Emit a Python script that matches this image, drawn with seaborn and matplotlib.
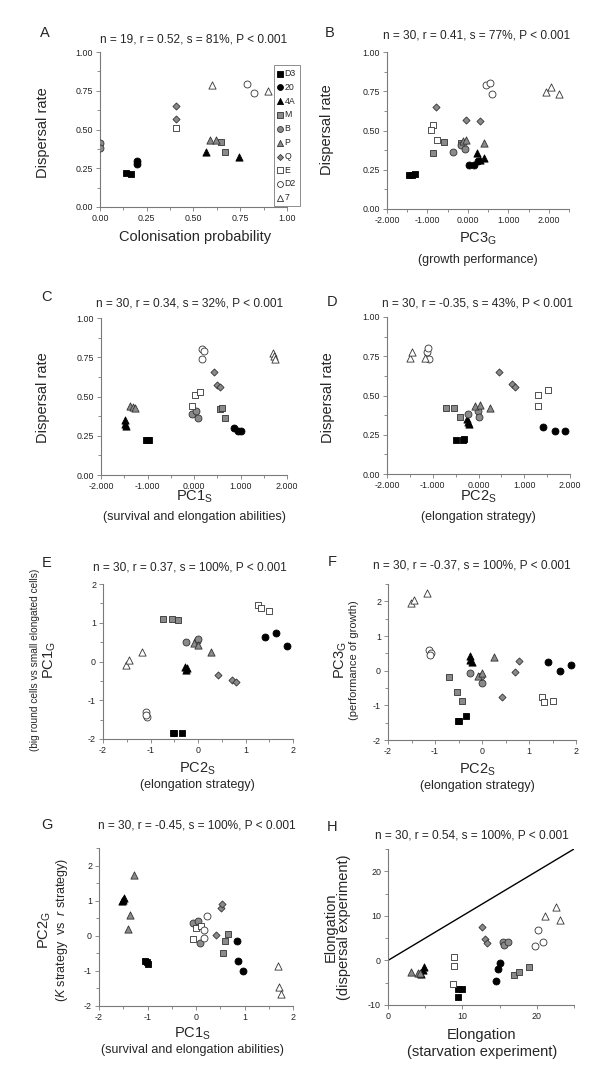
import seaborn as sns
import matplotlib.pyplot as plt
import matplotlib.ticker as mticker
import pandas as pd

# groups / legend
groups = ['D3', '20', '4A', 'M', 'B', 'P', 'Q', 'E', 'D2', '7']
grp30 = [g for g in groups for _ in range(3)]

# A: colonisation probability vs dispersal rate (n = 19)
a_grp = ['D3', 'D3', '20', '20', '4A', '4A', 'M', 'M', 'B', 'B',
         'P', 'P', 'Q', 'Q', 'E', 'D2', 'D2', '7', '7']
a_x = [0.14, 0.165, 0.20, 0.20, 0.566, 0.745, 0.646, 0.666, 0.0, 0.0,
       0.586, 0.62, 0.405, 0.405, 0.405, 0.786, 0.825, 0.60, 0.90]
a_y = [0.22, 0.215, 0.30, 0.28, 0.355, 0.32, 0.42, 0.355, 0.41, 0.38,
       0.435, 0.435, 0.65, 0.565, 0.51, 0.795, 0.735, 0.785, 0.75]

# B: PC3G vs dispersal rate
b_x = [-1.45, -1.38, -1.30, 0.02, 0.14, 0.26, 0.23, 0.41, 0.31,
       -0.87, -0.60, -0.18, -0.37, -0.16, -0.08, -0.12, -0.04, 0.40,
       -0.78, -0.04, 0.29, -0.87, -0.91, -0.76, 0.44, 0.54, 0.60,
       1.94, 2.06, 2.25]
b_y = [0.215, 0.215, 0.22, 0.28, 0.28, 0.305, 0.355, 0.323, 0.313,
       0.355, 0.425, 0.42, 0.365, 0.405, 0.385, 0.435, 0.44, 0.42,
       0.65, 0.57, 0.56, 0.535, 0.505, 0.44, 0.79, 0.80, 0.73,
       0.745, 0.78, 0.735]

# C: PC1S vs dispersal rate
c_x = [-1.04, -1.00, -0.97, 0.86, 0.94, 1.00, -1.48, -1.48, -1.46,
       0.55, 0.60, 0.66, -0.05, 0.05, 0.08, -1.38, -1.32, -1.27,
       0.42, 0.49, 0.56, -0.05, 0.02, 0.12, 0.17, 0.22, 0.18,
       1.69, 1.71, 1.75]
c_y = [0.22, 0.22, 0.22, 0.30, 0.28, 0.28, 0.35, 0.325, 0.315,
       0.42, 0.425, 0.36, 0.39, 0.41, 0.365, 0.44, 0.435, 0.425,
       0.653, 0.575, 0.56, 0.44, 0.51, 0.53, 0.80, 0.79, 0.74,
       0.78, 0.755, 0.74]

# D: PC2S vs dispersal rate
d_x = [-0.50, -0.33, -0.31, 1.42, 1.67, 1.90, -0.25, -0.23, -0.21,
       -0.70, -0.54, -0.41, -0.24, -0.01, 0.01, -0.08, 0.03, 0.26,
       0.45, 0.73, 0.80, 1.29, 1.31, 1.52, -1.13, -1.10, -1.08,
       -1.49, -1.45, -1.18]
d_y = [0.217, 0.217, 0.22, 0.30, 0.277, 0.277, 0.35, 0.33, 0.32,
       0.42, 0.423, 0.36, 0.383, 0.404, 0.362, 0.436, 0.44, 0.42,
       0.65, 0.574, 0.557, 0.436, 0.506, 0.532, 0.78, 0.80, 0.73,
       0.74, 0.78, 0.74]

# E: PC2S vs PC1G
e_x = [-0.52, -0.50, -0.34, 1.41, 1.65, 1.88, -0.27, -0.25, -0.24,
       -0.73, -0.55, -0.43, -0.26, -0.03, 0.01, -0.08, 0.00, 0.27,
       0.43, 0.72, 0.79, 1.27, 1.32, 1.50, -1.10, -1.08, -1.10,
       -1.51, -1.46, -1.18]
e_y = [-1.85, -1.85, -1.85, 0.64, 0.73, 0.41, -0.15, -0.21, -0.18,
       1.09, 1.09, 1.06, 0.50, 0.52, 0.57, 0.49, 0.43, 0.24,
       -0.36, -0.48, -0.52, 1.46, 1.37, 1.30, -1.31, -1.42, -1.37,
       -0.09, 0.03, 0.24]

# F: PC2S vs PC3G
f_x = [-0.51, -0.50, -0.34, 1.41, 1.67, 1.89, -0.26, -0.25, -0.22,
       -0.71, -0.54, -0.42, -0.26, -0.01, -0.03, -0.08, 0.01, 0.26,
       0.42, 0.71, 0.78, 1.28, 1.32, 1.50, -1.13, -1.09, -1.10,
       -1.51, -1.44, -1.18]
f_y = [-1.46, -1.44, -1.32, 0.24, 0.00, 0.16, 0.43, 0.31, 0.24,
       -0.17, -0.61, -0.87, -0.08, -0.37, -0.15, -0.14, -0.08, 0.38,
       -0.77, -0.05, 0.29, -0.75, -0.91, -0.88, 0.60, 0.52, 0.45,
       1.94, 2.05, 2.23]

# G: PC1S vs PC2G
g_x = [-1.06, -1.02, -0.98, 0.85, 0.87, 0.96, -1.53, -1.49, -1.51,
       0.56, 0.59, 0.66, -0.06, 0.05, 0.08, -1.40, -1.37, -1.28,
       0.41, 0.51, 0.54, -0.06, 0.01, 0.11, 0.16, 0.16, 0.23,
       1.69, 1.71, 1.75]
g_y = [-0.71, -0.76, -0.81, -0.14, -0.73, -1.01, 0.99, 1.09, 1.02,
       -0.50, -0.15, 0.05, 0.37, 0.43, -0.20, 0.19, 0.59, 1.73,
       0.02, 0.80, 0.90, -0.10, 0.21, 0.28, 0.16, -0.07, 0.56,
       -0.87, -1.46, -1.65]

# H: elongation starvation vs dispersal experiment
h_x = [9.35, 9.9, 9.35, 14.5, 14.75, 15.0, 4.9, 4.7, 4.5,
       17.0, 17.6, 18.9, 15.4, 15.6, 16.1, 3.05, 4.05, 4.35,
       12.6, 13.1, 13.3, 8.85, 8.85, 8.7, 19.7, 20.1, 20.8,
       21.1, 22.6, 23.1]
h_y = [-6.3, -6.5, -8.1, -4.7, -2.0, -0.5, -1.5, -2.2, -3.0,
       -3.3, -2.5, -1.4, 4.2, 3.4, 4.2, -2.5, -2.9, -2.9,
       7.5, 4.9, 3.8, 0.7, -1.2, -5.3, 3.3, 6.8, 4.2,
       10.0, 12.0, 9.0]
diag = [0, 25]

markers = {'D3': 's', '20': 'o', '4A': '^', 'M': 's', 'B': 'o',
           'P': '^', 'Q': 'D', 'E': 's', 'D2': 'o', '7': '^'}
fills = {'D3': 'black', '20': 'black', '4A': 'black', 'M': '#8a8a8a',
         'B': '#8a8a8a', 'P': '#8a8a8a', 'Q': '#8a8a8a', 'E': 'white',
         'D2': 'white', '7': 'white'}
sizes = {'s': 21, 'o': 25, '^': 27, 'D': 13}

sns.set_style('ticks')
plt.rcParams['font.family'] = ['Liberation Sans', 'DejaVu Sans']
plt.rcParams['axes.unicode_minus'] = False
plt.rcParams['mathtext.fontset'] = 'custom'
plt.rcParams['mathtext.rm'] = 'Liberation Sans'
plt.rcParams['mathtext.it'] = 'Liberation Sans:italic'

fig = plt.figure(figsize=(6, 10.78), dpi=100)


def px_axes(l, t, r, b):
    return fig.add_axes([l / 600, 1 - b / 1078, (r - l) / 600, (b - t) / 1078])


def put(x, y, s, va='center', **kw):
    fig.text(x / 600, 1 - y / 1078, s, ha='center', va=va, **kw)


def scatter(ax, xs, ys, grp):
    df = pd.DataFrame({'x': xs, 'y': ys, 'g': grp})
    for g in groups:
        sub = df[df['g'] == g]
        if len(sub) == 0:
            continue
        m = markers[g]
        ec = '#333333' if fills[g] != 'black' else 'black'
        sns.scatterplot(data=sub, x='x', y='y', marker=m, color=fills[g],
                        edgecolor=ec, linewidth=0.6, s=sizes[m], ax=ax,
                        label=g, legend=False, zorder=3)
    ax.set_xlabel('')
    ax.set_ylabel('')


def style(ax, xlim, ylim, xmaj, ymaj, xfmt, yfmt):
    ax.set_xlim(xlim)
    ax.set_ylim(ylim)
    ax.xaxis.set_major_locator(mticker.MultipleLocator(xmaj))
    ax.xaxis.set_minor_locator(mticker.MultipleLocator(xmaj / 2))
    ax.yaxis.set_major_locator(mticker.MultipleLocator(ymaj))
    ax.yaxis.set_minor_locator(mticker.MultipleLocator(ymaj / 2))
    ax.xaxis.set_major_formatter(mticker.FormatStrFormatter(xfmt))
    ax.yaxis.set_major_formatter(mticker.FormatStrFormatter(yfmt))
    sns.despine(ax=ax)
    for sp in ['left', 'bottom']:
        ax.spines[sp].set_color('#7a7a7a')
        ax.spines[sp].set_linewidth(0.8)
    ax.tick_params(which='both', direction='out', color='#7a7a7a',
                   width=0.6, labelsize=6.4, pad=2, labelcolor='#222222')
    ax.tick_params(which='major', length=3)
    ax.tick_params(which='minor', length=2)


tfs = 8.6
lfs = 10.5
sfs = 9

# A
ax = px_axes(100, 52, 287, 207)
scatter(ax, a_x, a_y, a_grp)
style(ax, (0, 1), (0, 1), 0.25, 0.25, '%.2f', '%.2f')
leg = ax.legend(loc='upper left', bbox_to_anchor=(0.93, 0.916), borderaxespad=0,
                fontsize=6.3, handlelength=0.6, handletextpad=0.15,
                labelspacing=0.55, borderpad=0.45, frameon=True, fancybox=False,
                edgecolor='#7a7a7a', framealpha=1, markerscale=0.85)
leg.get_frame().set_linewidth(0.6)
put(45, 33, 'A', fontsize=10.5)
put(194, 39, 'n = 19, r = 0.52, s = 81%, P < 0.001', fontsize=tfs)
put(43, 133, 'Dispersal rate', fontsize=lfs, rotation=90)
put(195, 237, 'Colonisation probability', fontsize=lfs)

# B
ax = px_axes(387, 52, 569, 209)
scatter(ax, b_x, b_y, grp30)
style(ax, (-2, 2.5), (0, 1), 1, 0.25, '%.3f', '%.2f')
put(330, 33, 'B', fontsize=10.5)
put(477, 35, 'n = 30, r = 0.41, s = 77%, P < 0.001', fontsize=tfs)
put(327, 130, 'Dispersal rate', fontsize=lfs, rotation=90)
put(478, 243, r'PC3$_{\mathregular{G}}$', va='baseline', fontsize=lfs)
put(478, 260, '(growth performance)', fontsize=sfs)

# C
ax = px_axes(101, 318, 287, 475)
scatter(ax, c_x, c_y, grp30)
style(ax, (-2, 2), (0, 1), 1, 0.25, '%.3f', '%.2f')
put(47, 297, 'C', fontsize=10.5)
put(190, 303, 'n = 30, r = 0.34, s = 32%, P < 0.001', fontsize=tfs)
put(43, 398, 'Dispersal rate', fontsize=lfs, rotation=90)
put(194, 501, r'PC1$_{\mathregular{S}}$', va='baseline', fontsize=lfs)
put(194, 517, '(survival and elongation abilities)', fontsize=sfs)

# D
ax = px_axes(387, 317, 570, 474)
scatter(ax, d_x, d_y, grp30)
style(ax, (-2, 2), (0, 1), 1, 0.25, '%.3f', '%.2f')
put(332, 302, 'D', fontsize=10.5)
put(478, 303, 'n = 30, r = -0.35, s = 43%, P < 0.001', fontsize=tfs)
put(328, 398, 'Dispersal rate', fontsize=lfs, rotation=90)
put(478, 501, r'PC2$_{\mathregular{S}}$', va='baseline', fontsize=lfs)
put(478, 517, '(elongation strategy)', fontsize=sfs)

# E
ax = px_axes(103, 584, 293, 739)
scatter(ax, e_x, e_y, grp30)
style(ax, (-2, 2), (-2, 2), 1, 1, '%d', '%d')
put(47, 563, 'E', fontsize=10.5)
put(190, 567, 'n = 30, r = 0.37, s = 100%, P < 0.001', fontsize=tfs)
put(50, 660, r'PC1$_{\mathregular{G}}$', fontsize=lfs, rotation=90)
put(35, 660, '(big round cells vs small elongated cells)', fontsize=7.3, rotation=90)
put(197, 773, r'PC2$_{\mathregular{S}}$', va='baseline', fontsize=lfs)
put(197, 785, '(elongation strategy)', fontsize=sfs)

# F
ax = px_axes(388, 584, 576, 740)
scatter(ax, f_x, f_y, grp30)
style(ax, (-2, 2), (-2, 2.5), 1, 1, '%d', '%d')
put(332, 562, 'F', fontsize=10.5)
put(472, 565, 'n = 30, r = -0.37, s = 100%, P < 0.001', fontsize=tfs)
put(341, 660, r'PC3$_{\mathregular{G}}$', fontsize=lfs, rotation=90)
put(354, 660, '(performance of growth)', fontsize=8, rotation=90)
put(477, 774, r'PC2$_{\mathregular{S}}$', va='baseline', fontsize=lfs)
put(477, 786, '(elongation strategy)', fontsize=sfs)

# G
ax = px_axes(99, 848, 293, 1006)
scatter(ax, g_x, g_y, grp30)
style(ax, (-2, 2), (-2, 2.5), 1, 1, '%d', '%d')
put(47, 825, 'G', fontsize=10.5)
put(197, 825, 'n = 30, r = -0.45, s = 100%, P < 0.001', fontsize=tfs)
put(45, 930, r'PC2$_{\mathregular{G}}$', fontsize=lfs, rotation=90)
put(62, 930, r'($\it{K}$ strategy  vs  $\it{r}$ strategy)', fontsize=sfs, rotation=90)
put(192, 1038, r'PC1$_{\mathregular{S}}$', va='baseline', fontsize=lfs)
put(192, 1050, '(survival and elongation abilities)', fontsize=sfs)

# H
ax = px_axes(388, 849, 574, 1005)
sns.lineplot(x=diag, y=diag, color='black', linewidth=1.0, ax=ax)
scatter(ax, h_x, h_y, grp30)
style(ax, (0, 25), (-10, 25), 10, 10, '%d', '%d')
put(332, 827, 'H', fontsize=10.5)
put(472, 835, 'n = 30, r = 0.54, s = 100%, P < 0.001', fontsize=tfs)
put(331, 927, 'Elongation', fontsize=lfs, rotation=90)
put(344, 927, '(dispersal experiment)', fontsize=lfs, rotation=90)
put(482, 1035, 'Elongation', fontsize=lfs)
put(482, 1052, '(starvation experiment)', fontsize=lfs)

fig.savefig('out.png', dpi=100)
